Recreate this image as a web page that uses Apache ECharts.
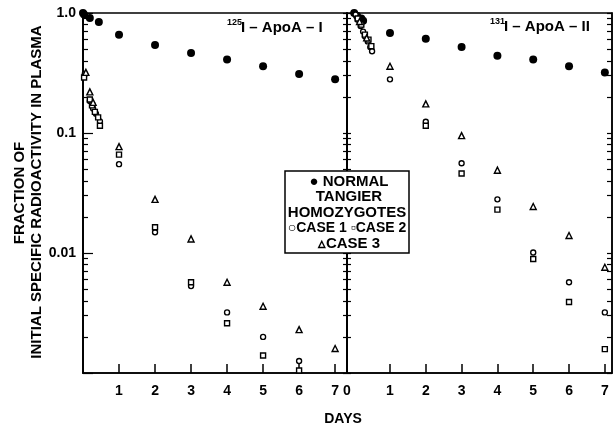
<!DOCTYPE html>
<html lang="en">
<head>
<meta charset="UTF-8">
<title>ApoA-I / ApoA-II plasma decay</title>
<style>
  html, body { margin: 0; padding: 0; background: #fff; }
  #chart { position: absolute; left: 0; top: 0; width: 613px; height: 431px; }
</style>
</head>
<body>
<div id="chart"></div>
<script src="https://cdn.jsdelivr.net/npm/echarts@6/dist/echarts.min.js"></script>
<script>
// [day, fraction of initial specific radioactivity]
var apoA1Normal = [[0, 1.0], [0.03, 0.97], [0.19, 0.91], [0.44, 0.84], [1, 0.66], [2, 0.54], [3, 0.465], [4, 0.41], [5, 0.36], [6, 0.31], [7, 0.28]];
var apoA1Case1 = [[0.05, 0.31], [0.19, 0.185], [0.28, 0.16], [0.36, 0.145], [0.47, 0.125], [1, 0.055], [2, 0.0149], [3, 0.0053], [4, 0.0032], [5, 0.002], [6, 0.00126]];
var apoA1Case2 = [[0.03, 0.29], [0.19, 0.19], [0.25, 0.17], [0.33, 0.15], [0.42, 0.135], [0.47, 0.115], [1, 0.066], [2, 0.0164], [3, 0.0057], [4, 0.0026], [5, 0.0014], [6, 0.00105]];
var apoA1Case3 = [[0.08, 0.32], [0.19, 0.22], [0.28, 0.18], [1, 0.077], [2, 0.028], [3, 0.0131], [4, 0.0057], [5, 0.0036], [6, 0.0023], [7, 0.0016]];

var apoA2Normal = [[0, 1.0], [0.08, 0.95], [0.2, 0.9], [0.25, 0.86], [1, 0.68], [2, 0.61], [3, 0.52], [4, 0.44], [5, 0.41], [6, 0.36], [7, 0.32]];
var apoA2Case1 = [[0.04, 0.97], [0.1, 0.88], [0.18, 0.78], [0.25, 0.7], [0.3, 0.64], [0.38, 0.58], [0.45, 0.52], [0.5, 0.48], [1, 0.28], [2, 0.124], [3, 0.056], [4, 0.028], [5, 0.0101], [6, 0.0057], [7, 0.0032]];
var apoA2Case2 = [[0.1, 0.9], [0.2, 0.8], [0.3, 0.66], [0.4, 0.6], [0.48, 0.53], [2, 0.115], [3, 0.046], [4, 0.023], [5, 0.0089], [6, 0.0039], [7, 0.00158]];
var apoA2Case3 = [[0.15, 0.85], [0.35, 0.62], [1, 0.36], [2, 0.175], [3, 0.095], [4, 0.049], [5, 0.0244], [6, 0.014], [7, 0.0076]];

var dayTicks = [1, 2, 3, 4, 5, 6, 7];
var yLabels = { '1': '1.0', '0.1': '0.1', '0.01': '0.01' };

// log minor ticks 2..9 per decade
var minorTicks = [];
[0.001, 0.01, 0.1].forEach(function (d) {
  for (var k = 2; k <= 9; k++) minorTicks.push(+(d * k).toPrecision(3));
});
var allTicks = [0.001, 0.01, 0.1, 1].concat(minorTicks);

var FONT = 'Liberation Sans, Arial, sans-serif';
var chart = echarts.init(document.getElementById('chart'));

function xAxisCfg(grid, min, max, labelVals) {
  return {
    type: 'value', gridIndex: grid, min: min, max: max,
    axisLine: { show: true, onZero: false, lineStyle: { color: '#000', width: 1.5 } },
    axisTick: { show: true, inside: true, length: 9, customValues: dayTicks, lineStyle: { color: '#000', width: 1.5 } },
    axisLabel: {
      customValues: labelVals, margin: 11, color: '#000', fontWeight: 'bold', fontSize: 14, fontFamily: FONT,
      formatter: function (v) { return v < 0.5 ? '0' : String(Math.round(v)); }
    },
    splitLine: { show: false }
  };
}

function yAxisCfg(grid, pos, ticks, len, showLabel) {
  var a = {
    type: 'log', gridIndex: grid, position: pos, min: 0.001, max: 1, logBase: 10,
    axisLine: { show: true, onZero: false, lineStyle: { color: '#000', width: 1.5 } },
    axisTick: { show: true, inside: true, length: len, lineStyle: { color: '#000', width: 1.2 } },
    axisLabel: { show: false },
    splitLine: { show: false }
  };
  if (ticks) a.axisTick.customValues = ticks;
  if (showLabel) {
    a.axisLabel = {
      show: true, margin: 7, color: '#000', fontWeight: 'bold', fontSize: 14, fontFamily: FONT,
      formatter: function (v) { return yLabels[String(+v.toPrecision(3))] || ''; }
    };
  }
  return a;
}

function sc(name, data, x, y, symbol, size, filled) {
  return {
    name: name, type: 'scatter', xAxisIndex: x, yAxisIndex: y,
    symbol: symbol, symbolSize: size, data: data, silent: true,
    itemStyle: filled ? { color: '#000', opacity: 1 } : { color: '#fff', borderColor: '#000', borderWidth: 1.4, opacity: 1 }
  };
}

function txt(x, y, s, size, rot, z) {
  return {
    type: 'text', x: x, y: y, rotation: rot || 0, z: z || 10,
    style: { text: s, font: 'bold ' + size + 'px ' + FONT, fill: '#000', textAlign: 'center', textVerticalAlign: 'middle' }
  };
}

var option = {
  animation: false,
  backgroundColor: '#fff',
  grid: [
    { left: 83, top: 13, width: 264, height: 360, show: true, borderColor: '#000', borderWidth: 1.5 },
    { left: 347, top: 13, width: 265, height: 360, show: true, borderColor: '#000', borderWidth: 1.5 }
  ],
  xAxis: [
    xAxisCfg(0, 0, 7.33, dayTicks),
    xAxisCfg(1, -0.2, 7.2, [-0.2].concat(dayTicks))
  ],
  yAxis: [
    yAxisCfg(0, 'left', null, 10, true),
    yAxisCfg(0, 'left', minorTicks, 5, false),
    yAxisCfg(0, 'right', allTicks, 4, false),
    yAxisCfg(1, 'left', allTicks, 4, false),
    yAxisCfg(1, 'right', allTicks, 5, false)
  ],
  series: [
    sc('Normal', apoA1Normal, 0, 0, 'circle', 8, true),
    sc('Case 1', apoA1Case1, 0, 0, 'circle', 5, false),
    sc('Case 2', apoA1Case2, 0, 0, 'rect', 5, false),
    sc('Case 3', apoA1Case3, 0, 0, 'triangle', 6, false),
    sc('Normal', apoA2Normal, 1, 3, 'circle', 8, true),
    sc('Case 1', apoA2Case1, 1, 3, 'circle', 5, false),
    sc('Case 2', apoA2Case2, 1, 3, 'rect', 5, false),
    sc('Case 3', apoA2Case3, 1, 3, 'triangle', 6, false)
  ],
  graphic: [
    txt(20, 193, 'FRACTION OF', 15, Math.PI / 2),
    txt(37, 192, 'INITIAL SPECIFIC RADIOACTIVITY IN PLASMA', 15, Math.PI / 2),
    txt(343, 419, 'DAYS', 14),
    // panel titles
    { type: 'text', x: 227, y: 23, z: 10,
      style: { text: '125', font: 'bold 9px ' + FONT, fill: '#000', textAlign: 'left', textVerticalAlign: 'middle' } },
    { type: 'text', x: 241, y: 28, z: 10,
      style: { text: 'I \u2013 ApoA \u2013 I', font: 'bold 15px ' + FONT, fill: '#000', textAlign: 'left', textVerticalAlign: 'middle' } },
    { type: 'text', x: 490, y: 22, z: 10,
      style: { text: '131', font: 'bold 9px ' + FONT, fill: '#000', textAlign: 'left', textVerticalAlign: 'middle' } },
    { type: 'text', x: 504, y: 27, z: 10,
      style: { text: 'I \u2013 ApoA \u2013 II', font: 'bold 15px ' + FONT, fill: '#000', textAlign: 'left', textVerticalAlign: 'middle' } },
    // legend box
    { type: 'rect', z: 20, shape: { x: 285, y: 171, width: 124, height: 82 },
      style: { fill: '#fff', stroke: '#000', lineWidth: 1.5 } },
    txt(349, 182, '\u25CF NORMAL', 15, 0, 21),
    txt(349, 197, 'TANGIER', 15, 0, 21),
    txt(347, 213, 'HOMOZYGOTES', 15, 0, 21),
    txt(347, 228, '\u25CBCASE 1 \u25ABCASE 2', 14, 0, 21),
    txt(349, 244, '\u25B5CASE 3', 15, 0, 21)
  ]
};
chart.setOption(option);
</script>
</body>
</html>
